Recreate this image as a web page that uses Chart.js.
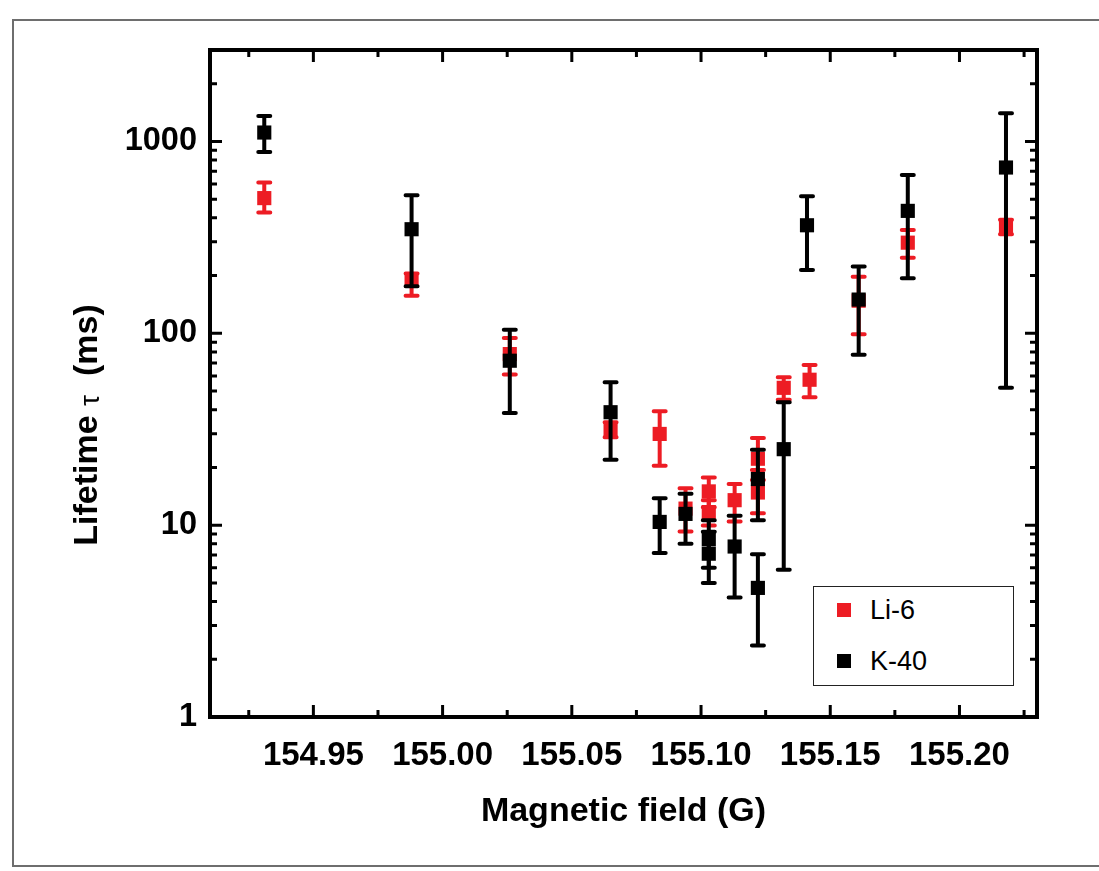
<!DOCTYPE html>
<html>
<head>
<meta charset="utf-8">
<script src="https://cdn.jsdelivr.net/npm/chart.js@4.4.1/dist/chart.umd.min.js"></script>
<style>
html,body{margin:0;padding:0;background:#fff;}
#wrap{position:relative;width:1099px;height:871px;overflow:hidden;background:#fff;}
#frame{position:absolute;left:12px;top:19px;width:1100px;height:848px;border:2px solid #6e6e6e;border-right:none;box-sizing:border-box;}
#c{position:absolute;left:0;top:0;}
#legend{position:absolute;left:813px;top:586px;width:201px;height:100px;border:1px solid #222;box-sizing:border-box;background:#fff;font-family:"Liberation Sans",Arial,sans-serif;font-size:27px;color:#000;}
#legend .item{position:absolute;left:0;height:30px;line-height:30px;white-space:nowrap;}
#legend .sw{position:absolute;left:23px;top:8px;width:14px;height:14px;}
#legend .lb{position:absolute;left:56px;top:0;}
</style>
</head>
<body>
<div id="wrap">
  <div id="frame"></div>
  <canvas id="c" width="1099" height="871"></canvas>
  <div id="legend"></div>
</div>
<script>
// ---- data ----
const liField = [154.931, 154.988, 155.026, 155.065, 155.084, 155.094, 155.103, 155.103, 155.113, 155.122, 155.122, 155.132, 155.142, 155.161, 155.180, 155.218];
const liTau   = [507, 188, 78, 31.4, 29.9, 12.2, 15.0, 11.7, 13.5, 22.2, 14.8, 52, 57.3, 148, 297, 360];
const liLow   = [426, 157, 61, 28.7, 20.4, 9.26, 12.4, 9.95, 10.45, 17.2, 11.55, 45, 46.4, 99, 248, 329];
const liHigh  = [611, 205, 94.5, 34.4, 39.2, 15.6, 17.7, 13.5, 16.4, 28.5, 19.4, 59, 68.4, 197, 346, 391];

const kField  = [154.931, 154.988, 155.026, 155.065, 155.084, 155.094, 155.103, 155.103, 155.113, 155.122, 155.122, 155.132, 155.141, 155.161, 155.180, 155.218];
const kTau    = [1114, 349, 72, 38.8, 10.4, 11.45, 8.45, 7.1, 7.74, 17.4, 4.71, 24.9, 366, 150, 435, 732];
const kLow    = [883, 176, 38.4, 21.9, 7.17, 8.0, 6.0, 5.0, 4.2, 10.6, 2.36, 5.85, 214, 77.4, 194, 52.1];
const kHigh   = [1360, 525, 104.4, 55.6, 13.8, 14.6, 10.6, 9.25, 11.2, 24.7, 7.06, 43.7, 518, 223, 670, 1404];

const seriesLabels = ['Li-6', 'K-40'];
const xMajorTicks = [154.95, 155.00, 155.05, 155.10, 155.15, 155.20];
const xMinorTicks = [154.925, 154.975, 155.025, 155.075, 155.125, 155.175, 155.225];
const yMajorTicks = [1, 10, 100, 1000];
const yMinorTicks = [2,3,4,5,6,7,8,9,20,30,40,50,60,70,80,90,200,300,400,500,600,700,800,900,2000];
const xTitle = 'Magnetic field (G)';
const yTitleParts = ['Lifetime ', '\u03C4', '  (ms)'];

const RED = '#ed1c24';
const BLACK = '#000000';
const FONT = '"Liberation Sans", Arial, sans-serif';

function pts(xs, ys, lo, hi){ return xs.map((x,i)=>({x:x, y:ys[i], lo:lo[i], hi:hi[i]})); }

const errorBars = {
  id:'errorBars',
  beforeDatasetDraw(chart, args){
    const ds = chart.data.datasets[args.index];
    const xs = chart.scales.x, ys = chart.scales.y, ctx = chart.ctx;
    ctx.save();
    ctx.strokeStyle = ds.backgroundColor;
    ctx.lineWidth = 4;
    ctx.lineCap = 'round';
    ds.data.forEach(p=>{
      const x = xs.getPixelForValue(p.x);
      const y1 = ys.getPixelForValue(p.lo), y2 = ys.getPixelForValue(p.hi);
      ctx.beginPath();
      ctx.moveTo(x, y1); ctx.lineTo(x, y2);
      ctx.moveTo(x-6, y1); ctx.lineTo(x+6, y1);
      ctx.moveTo(x-6, y2); ctx.lineTo(x+6, y2);
      ctx.stroke();
    });
    ctx.restore();
  }
};

const frameTicks = {
  id:'frameTicks',
  afterDatasetsDraw(chart){
    const {ctx, chartArea:a} = chart;
    const xs = chart.scales.x, ys = chart.scales.y;
    ctx.save();
    ctx.strokeStyle = '#000';
    ctx.lineCap = 'butt';
    ctx.lineWidth = 3;
    const maj = 12, mnr = 7;
    ctx.beginPath();
    xMajorTicks.concat(xMinorTicks).forEach((v,i)=>{
      const L = i < xMajorTicks.length ? maj : mnr;
      const x = xs.getPixelForValue(v);
      ctx.moveTo(x, a.bottom); ctx.lineTo(x, a.bottom - L);
      ctx.moveTo(x, a.top); ctx.lineTo(x, a.top + L);
    });
    yMajorTicks.concat(yMinorTicks).forEach((v,i)=>{
      const L = i < yMajorTicks.length ? maj : mnr;
      const y = ys.getPixelForValue(v);
      ctx.moveTo(a.left, y); ctx.lineTo(a.left + L, y);
      ctx.moveTo(a.right, y); ctx.lineTo(a.right - L, y);
    });
    ctx.stroke();
    ctx.lineWidth = 4;
    ctx.strokeRect(a.left, a.top, a.right - a.left, a.bottom - a.top);
    // axis titles
    ctx.fillStyle = '#000';
    ctx.font = 'bold 34px ' + FONT;
    ctx.textAlign = 'center';
    ctx.textBaseline = 'middle';
    ctx.fillText(xTitle, (a.left + a.right)/2, 812);
    // y title, rotated
    ctx.translate(88, 425);
    ctx.rotate(-Math.PI/2);
    const fonts = ['bold 34px ' + FONT, '28px ' + FONT, 'bold 34px ' + FONT];
    let widths = yTitleParts.map((t,i)=>{ ctx.font = fonts[i]; return ctx.measureText(t).width; });
    let total = widths.reduce((s,w)=>s+w,0);
    let cx = -total/2;
    ctx.textAlign = 'left';
    yTitleParts.forEach((t,i)=>{ ctx.font = fonts[i]; ctx.fillText(t, cx, i===1 ? 3 : 0); cx += widths[i]; });
    ctx.restore();
  }
};

const chart = new Chart(document.getElementById('c'), {
  type: 'scatter',
  data: {
    datasets: [
      {label: seriesLabels[0], data: pts(liField, liTau, liLow, liHigh), backgroundColor: RED, borderColor: RED, borderWidth: 0,
       pointStyle: 'rect', pointRadius: 10, pointHoverRadius: 10, order: 2},
      {label: seriesLabels[1], data: pts(kField, kTau, kLow, kHigh), backgroundColor: BLACK, borderColor: BLACK, borderWidth: 0,
       pointStyle: 'rect', pointRadius: 10, pointHoverRadius: 10, order: 1}
    ]
  },
  options: {
    responsive: false,
    animation: false,
    events: [],
    layout: {padding: {left: 0, right: 62, top: 50, bottom: 0}},
    plugins: {legend: {display: false}, tooltip: {enabled: false}},
    scales: {
      x: {
        type: 'linear', min: 154.91, max: 155.23,
        grid: {display: false, drawTicks: false},
        border: {display: false},
        afterBuildTicks: s => { s.ticks = xMajorTicks.map(v => ({value: v})); },
        afterFit: s => { s.height = 154; },
        ticks: {autoSkip: false, maxRotation: 0, minRotation: 0, padding: 19, color: '#000',
                font: {family: FONT, size: 33, weight: 'bold'}, callback: v => Number(v).toFixed(2)}
      },
      y: {
        type: 'logarithmic', min: 1, max: 3000,
        grid: {display: false, drawTicks: false},
        border: {display: false},
        afterBuildTicks: s => { s.ticks = yMajorTicks.map(v => ({value: v})); },
        afterFit: s => { s.width = 210; },
        ticks: {autoSkip: false, padding: 13, color: '#000',
                font: {family: FONT, size: 32.5, weight: 'bold'}, callback: v => String(v)}
      }
    }
  },
  plugins: [errorBars, frameTicks]
});

// legend built from the datasets
const lg = document.getElementById('legend');
chart.data.datasets.forEach((ds, i) => {
  const it = document.createElement('div');
  it.className = 'item';
  it.style.top = (8 + i*51) + 'px';
  it.style.width = '100%';
  const sw = document.createElement('span'); sw.className = 'sw'; sw.style.background = ds.backgroundColor;
  const lb = document.createElement('span'); lb.className = 'lb'; lb.textContent = ds.label;
  it.appendChild(sw); it.appendChild(lb); lg.appendChild(it);
});
</script>
</body>
</html>
